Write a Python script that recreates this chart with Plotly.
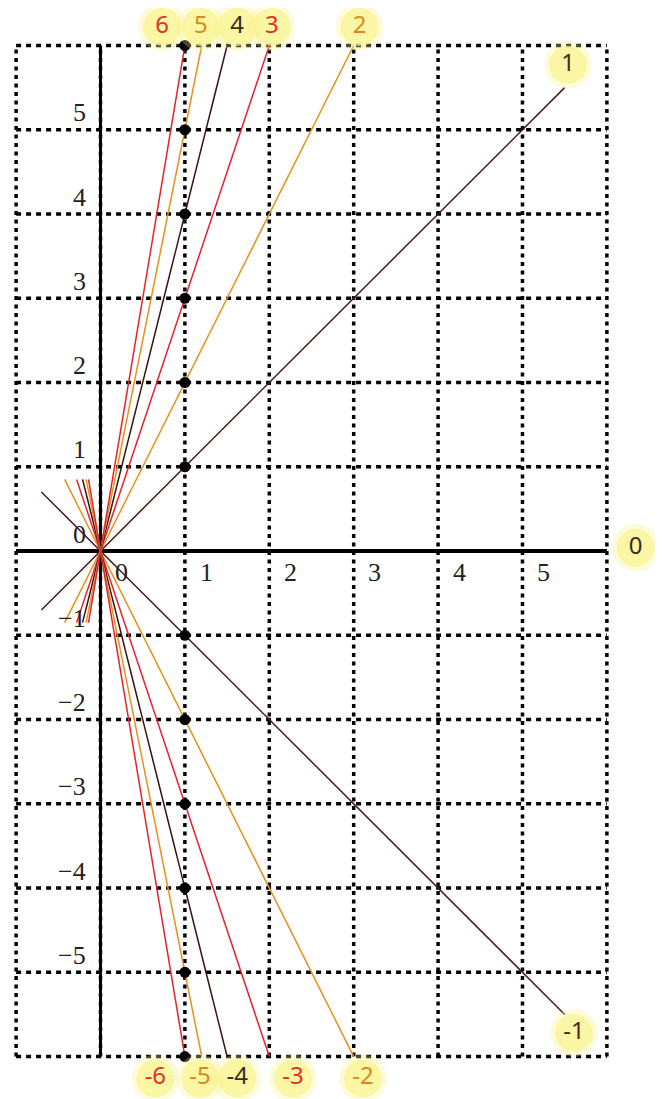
import plotly.graph_objects as go

# ---- data ----
slopes = [1, 2, 3, 4, 5, 6, -1, -2, -3, -4, -5, -6]
slope_labels = ["1", "2", "3", "4", "5", "6", "-1", "-2", "-3", "-4", "-5", "-6"]
dot_x = [1] * 12
dot_y = [6, 5, 4, 3, 2, 1, -1, -2, -3, -4, -5, -6]
grid_x = [-1, 0, 1, 2, 3, 4, 5, 6]
grid_y = [-6, -5, -4, -3, -2, -1, 0, 1, 2, 3, 4, 5, 6]
xtick_vals = [0, 1, 2, 3, 4, 5]
ytick_vals = [5, 4, 3, 2, 1, 0, -1, -2, -3, -4, -5]
zero_label = "0"

# ---- styles / layout helpers ----
RED = "#e3242b"
ORANGE = "#e8901a"
DARK = "#4a1a1a"
DARKER = "#3a1212"
line_color = {1: DARK, 2: ORANGE, 3: RED, 4: DARKER, 5: ORANGE, 6: RED}
text_color = {1: "#4a2a10", 2: "#dd8a1c", 3: "#e0302a", 4: "#3a2a20", 5: "#d98a1c", 6: "#e0302a"}
label_pos = {
    "1": (5.54, 5.77), "2": (3.07, 6.22), "3": (2.03, 6.22), "4": (1.62, 6.22),
    "5": (1.19, 6.22), "6": (0.73, 6.22),
    "-1": (5.61, -5.72), "-2": (3.11, -6.26), "-3": (2.28, -6.26), "-4": (1.62, -6.26),
    "-5": (1.18, -6.26), "-6": (0.65, -6.26),
}
zero_pos = (6.34, 0.04)

fig = go.Figure()

for gx in grid_x:
    fig.add_trace(go.Scatter(x=[gx, gx], y=[grid_y[0], grid_y[-1]], mode="lines",
                             line=dict(color="black", width=3.5, dash="4px,4.5px"),
                             hoverinfo="skip", showlegend=False))
for gy in grid_y:
    fig.add_trace(go.Scatter(x=[grid_x[0], grid_x[-1]], y=[gy, gy], mode="lines",
                             line=dict(color="black", width=3.5, dash="5px,5px"),
                             hoverinfo="skip", showlegend=False))

fig.add_trace(go.Scatter(x=[0, 0], y=[grid_y[0], grid_y[-1]], mode="lines",
                         line=dict(color="black", width=3), hoverinfo="skip", showlegend=False))
fig.add_trace(go.Scatter(x=[grid_x[0], grid_x[-1]], y=[0, 0], mode="lines",
                         line=dict(color="black", width=4), hoverinfo="skip", showlegend=False))

for m in slopes:
    a = abs(m)
    x0 = -min(0.7, 0.85 / a)
    x1 = 5.5 if a == 1 else 6.0 / a
    fig.add_trace(go.Scatter(x=[x0, x1], y=[m * x0, m * x1], mode="lines",
                             line=dict(color=line_color[a], width=1.5),
                             hoverinfo="skip", showlegend=False))

fig.add_trace(go.Scatter(x=dot_x, y=dot_y, mode="markers",
                         marker=dict(color="black", size=11), hoverinfo="skip", showlegend=False))

lx = [label_pos[s][0] for s in slope_labels] + [zero_pos[0]]
ly = [label_pos[s][1] for s in slope_labels] + [zero_pos[1]]
fig.add_trace(go.Scatter(x=lx, y=ly, mode="markers",
                         marker=dict(color="rgba(250,243,140,0.3)", size=48, line=dict(width=0)),
                         hoverinfo="skip", showlegend=False))
fig.add_trace(go.Scatter(x=lx, y=ly, mode="markers",
                         marker=dict(color="rgba(250,243,140,0.7)", size=38, line=dict(width=0)),
                         hoverinfo="skip", showlegend=False))
tcols = [text_color[abs(m)] for m in slopes] + ["#3a2a20"]
fig.add_trace(go.Scatter(x=lx, y=ly, mode="text", text=slope_labels + [zero_label],
                         textfont=dict(family="Noto Sans", size=24, color=tcols),
                         hoverinfo="skip", showlegend=False))

annotations = []
for v in ytick_vals:
    annotations.append(dict(x=-0.15, y=v + 0.2, text=str(v).replace("-", "\u2212"), showarrow=False,
                            xanchor="right", yanchor="middle",
                            font=dict(family="Liberation Serif", size=26, color="#222")))
for v in xtick_vals:
    annotations.append(dict(x=v + 0.15, y=-0.25, text=str(v), showarrow=False,
                            xanchor="left", yanchor="middle",
                            font=dict(family="Liberation Serif", size=26, color="#222")))

fig.update_layout(
    width=655, height=1091,
    margin=dict(l=0, r=0, t=0, b=0),
    paper_bgcolor="white", plot_bgcolor="white",
    xaxis=dict(range=[-1.096, 6.665], visible=False, fixedrange=True),
    yaxis=dict(range=[-6.504, 6.445], visible=False, fixedrange=True),
    annotations=annotations,
    showlegend=False,
)

fig.write_html("out.html")
